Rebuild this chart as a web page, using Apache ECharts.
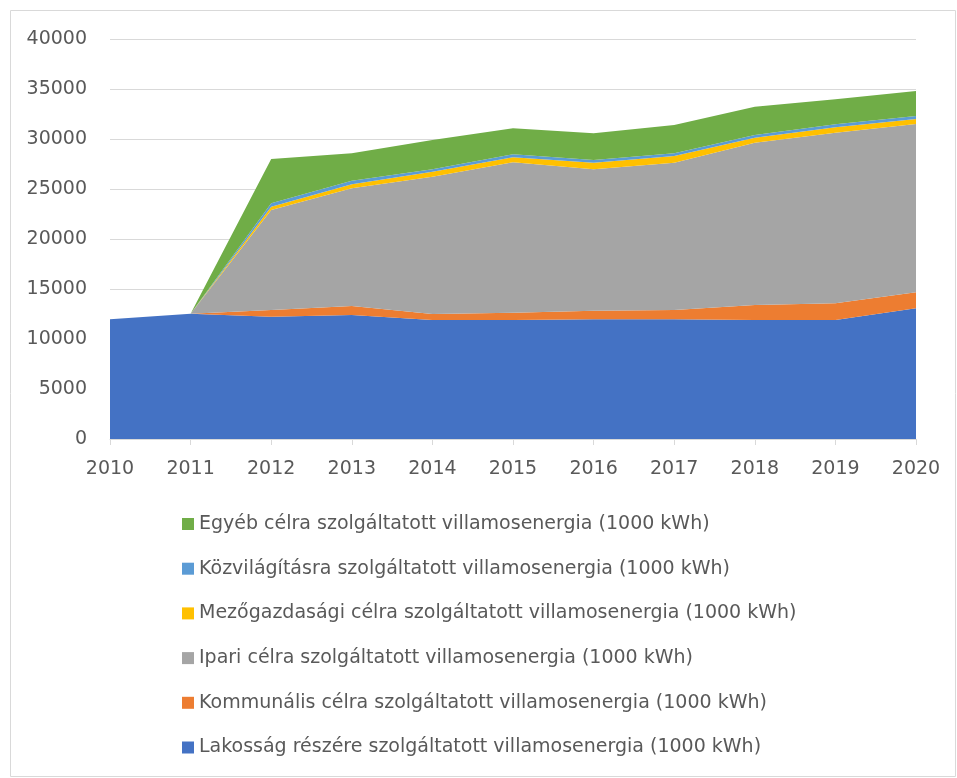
<!DOCTYPE html>
<html>
<head>
<meta charset="utf-8">
<script src="https://cdn.jsdelivr.net/npm/echarts@6/dist/echarts.min.js"></script>
<style>
  html, body { margin: 0; padding: 0; background: #fff; }
  #chart { width: 957px; height: 778px; }
</style>
</head>
<body>
<div id="chart"></div>
<script>
  // categories
  var years = ['2010', '2011', '2012', '2013', '2014', '2015', '2016', '2017', '2018', '2019', '2020'];

  // series values (1000 kWh)
  var lakossag    = [11970, 12530, 12230, 12400, 11900, 11900, 11970, 11970, 11900, 11900, 13070];
  var kommunalis  = [0, 0, 670, 900, 600, 730, 860, 930, 1500, 1670, 1600];
  var ipari       = [0, 0, 10000, 11770, 13730, 15040, 14140, 14730, 16230, 17060, 16830];
  var mezogazd    = [0, 0, 330, 400, 500, 500, 660, 670, 500, 540, 500];
  var kozvilagit  = [0, 0, 340, 360, 240, 300, 270, 270, 270, 300, 300];
  var egyeb       = [0, 0, 4430, 2740, 2930, 2600, 2670, 2830, 2830, 2500, 2500];

  var names = [
    'Lakosság részére szolgáltatott villamosenergia (1000 kWh)',
    'Kommunális célra szolgáltatott villamosenergia (1000 kWh)',
    'Ipari célra szolgáltatott villamosenergia (1000 kWh)',
    'Mezőgazdasági célra szolgáltatott villamosenergia (1000 kWh)',
    'Közvilágításra szolgáltatott villamosenergia (1000 kWh)',
    'Egyéb célra szolgáltatott villamosenergia (1000 kWh)'
  ];
  var values = [lakossag, kommunalis, ipari, mezogazd, kozvilagit, egyeb];
  var colors = ['#4472C4', '#ED7D31', '#A5A5A5', '#FFC000', '#5B9BD5', '#70AD47'];

  var font = 'DejaVu Sans, sans-serif';

  var series = names.map(function (n, i) {
    return {
      name: n,
      type: 'line',
      stack: 'total',
      data: values[i],
      symbol: 'none',
      lineStyle: { width: 0 },
      areaStyle: { color: colors[i], opacity: 1 },
      itemStyle: { color: colors[i] }
    };
  });

  var chart = echarts.init(document.getElementById('chart'));
  chart.setOption({
    animation: false,
    color: colors,
    graphic: [{
      type: 'rect',
      shape: { x: 10.5, y: 10.5, width: 945, height: 766 },
      style: { fill: 'none', stroke: '#d9d9d9', lineWidth: 1 }
    }],
    grid: { left: 110, right: 41, top: 39, bottom: 339 },
    xAxis: {
      type: 'category',
      data: years,
      boundaryGap: false,
      axisLine: { lineStyle: { color: '#d9d9d9' } },
      axisTick: { show: true, length: 6, lineStyle: { color: '#d9d9d9' } },
      axisLabel: { color: '#595959', fontSize: 19, fontFamily: font, margin: 21 }
    },
    yAxis: {
      type: 'value',
      min: 0,
      max: 40000,
      interval: 5000,
      axisLine: { show: false },
      axisTick: { show: false },
      splitLine: { lineStyle: { color: '#d9d9d9' } },
      axisLabel: {
        color: '#595959', fontSize: 19, fontFamily: font, margin: 23,
        formatter: function (v) { return String(v); }
      }
    },
    legend: {
      orient: 'vertical',
      left: 177,
      top: 508,
      data: names.slice().reverse(),
      icon: 'rect',
      itemWidth: 12,
      itemHeight: 12,
      itemGap: 22.7,
      textStyle: { color: '#595959', fontSize: 19, fontFamily: font, lineHeight: 22 }
    },
    series: series
  });
</script>
</body>
</html>
